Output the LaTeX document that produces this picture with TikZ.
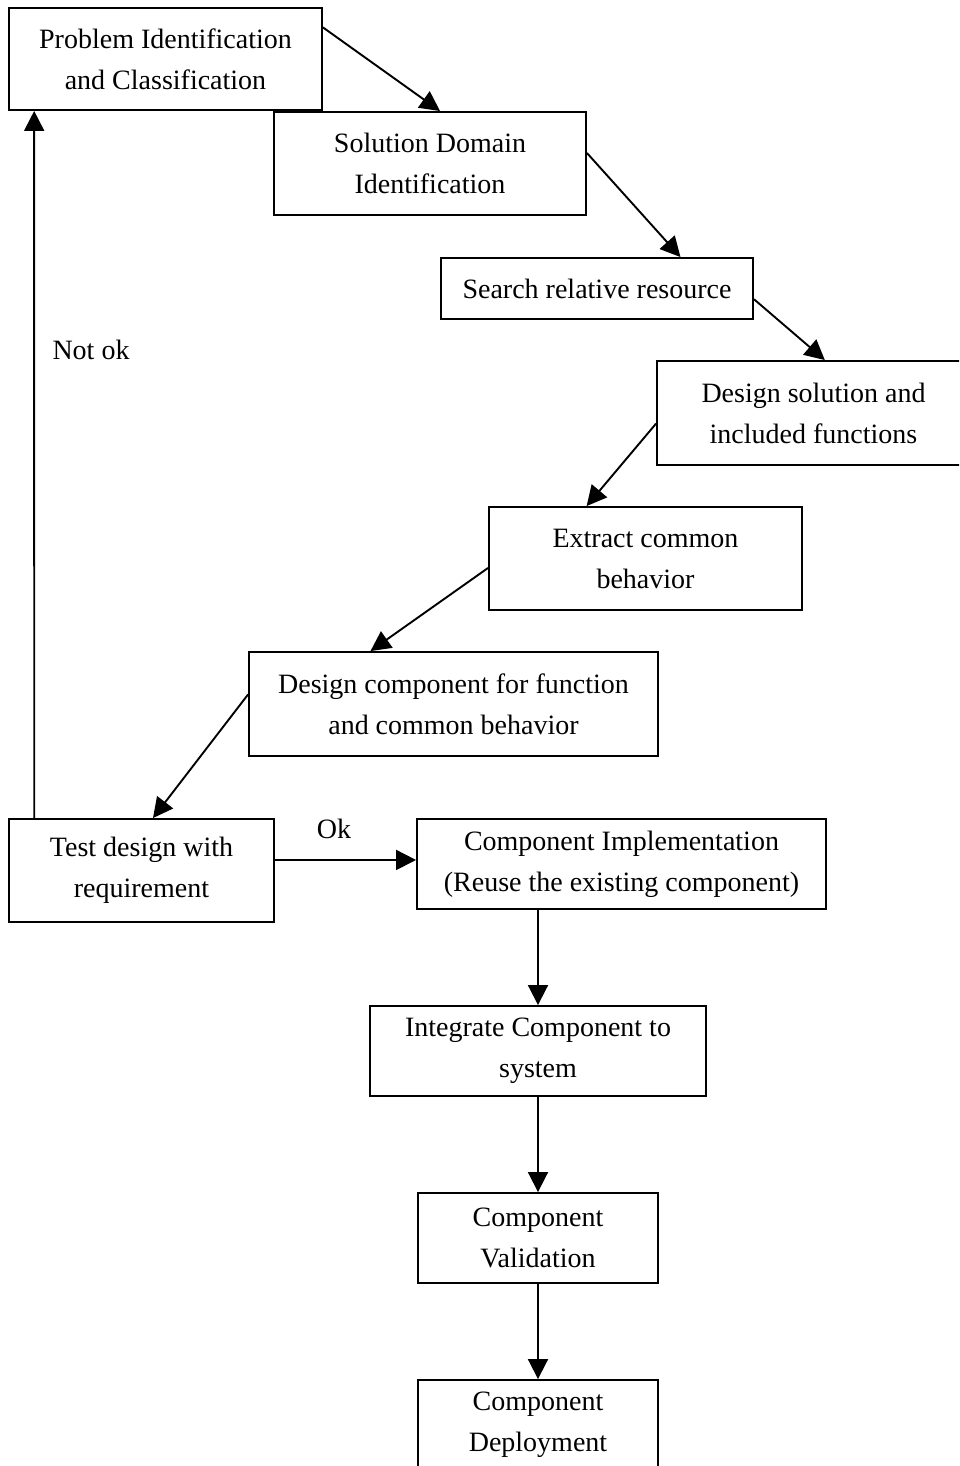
\documentclass[tikz,border=0pt]{standalone}
\usepackage{fontspec}
\setmainfont{Liberation Serif}
\usetikzlibrary{arrows.meta,calc}
\begin{document}
\begin{tikzpicture}[x=1pt,y=-1pt,
  stage/.style={draw, line width=1.9pt, inner sep=0pt, align=center,
    font=\fontsize{28}{41}\selectfont},
  flow/.style={line width=1.9pt, -{Triangle[length=20pt,width=20pt]}},
  tag/.style={inner sep=0pt, font=\fontsize{28}{34}\selectfont}]
\useasboundingbox (0,0) rectangle (959,1466);
\clip (0,0) rectangle (959,1466);

% process stages
\node[stage, minimum width=313pt, minimum height=102pt] (p1) at (165.5,59)
  {Problem Identification\\and Classification};
\node[stage, minimum width=312pt, minimum height=103pt] (p2) at (430,163.5)
  {Solution Domain\\Identification};
\node[stage, minimum width=312pt, minimum height=61pt] (p3) at (597,288.5)
  {Search relative resource};
\node[stage, minimum width=313pt, minimum height=104pt] (p4) at (813.5,413)
  {Design solution and\\included functions};
\node[stage, minimum width=313pt, minimum height=103pt] (p5) at (645.5,558.5)
  {Extract common\\behavior};
\node[stage, minimum width=409pt, minimum height=104pt] (p6) at (453.5,704)
  {Design component for function\\and common behavior};
\node[stage, minimum width=265pt, minimum height=103pt] (p7) at (141.5,870.5)
  {Test design with\\requirement};
\node[stage, minimum width=409pt, minimum height=90pt] (p8) at (621.5,864)
  {Component Implementation\\(Reuse the existing component)};
\node[stage, minimum width=336pt, minimum height=90pt] (p9) at (538,1051)
  {Integrate Component to\\system};
\node[stage, minimum width=240pt, minimum height=90pt] (p10) at (538,1238)
  {Component\\Validation};
\node[stage, minimum width=240pt, minimum height=90pt] (p11) at (538,1425)
  {Component\\Deployment};

% branch labels
\node[tag] (notok) at (91,350) {Not ok};
\node[tag] (ok) at (334,829) {Ok};

% staircase of design steps
\draw[flow] ($(p1.north east)!0.196!(p1.south east)$) -- ($(p2.north west)!0.532!(p2.north east)$);
\draw[flow] ($(p2.north east)!0.40!(p2.south east)$) -- ($(p3.north west)!0.766!(p3.north east)$);
\draw[flow] ($(p3.north east)!0.67!(p3.south east)$) -- ($(p4.north west)!0.536!(p4.north east)$);
\draw[flow] ($(p4.north west)!0.60!(p4.south west)$) -- ($(p5.north west)!0.313!(p5.north east)$);
\draw[flow] ($(p5.north west)!0.59!(p5.south west)$) -- ($(p6.north west)!0.298!(p6.north east)$);
\draw[flow] ($(p6.north west)!0.41!(p6.south west)$) -- ($(p7.north west)!0.543!(p7.north east)$);

% test outcome
\draw[flow] ($(p7.north east)!0.40!(p7.south east)$) -- ($(p8.north west)!0.456!(p8.south west)$);
\draw[flow] ($(p7.north west)!0.098!(p7.north east)$) -- ($(p1.south west)!0.083!(p1.south east)$);

% implementation chain
\draw[flow] (p9.north |- p8.south) -- (p9.north);
\draw[flow] (p9.south) -- (p10.north);
\draw[flow] (p10.south) -- (p11.north);
\end{tikzpicture}
\end{document}
